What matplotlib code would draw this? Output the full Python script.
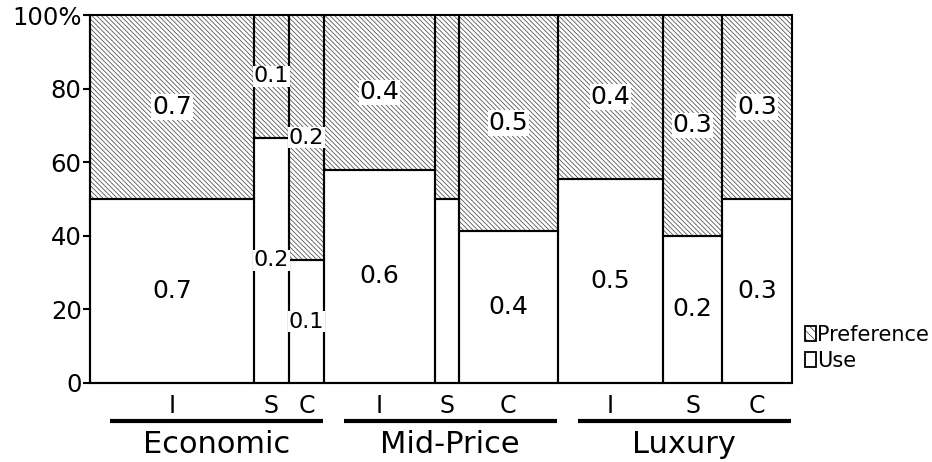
import numpy as np
import matplotlib
matplotlib.use("Agg")
import matplotlib.pyplot as plt
from matplotlib.patches import Patch
from matplotlib.legend_handler import HandlerTuple

SEGMENTS = ["Economic", "Mid-Price", "Luxury"]
TYPES = ["I", "S", "C"]
USE = [[0.7, 0.2, 0.1], [0.55, 0.1, 0.35], [0.5, 0.2, 0.3]]
PREF = [[0.7, 0.1, 0.2], [0.4, 0.1, 0.5], [0.4, 0.3, 0.3]]
YTICKS = [0, 20, 40, 60, 80, 100]
YTICK_LABELS = ["0", "20", "40", "60", "80", "100%"]

HATCH = "\\" * 7
HATCH_COL = "#4a4a4a"
plt.rcParams["hatch.linewidth"] = 0.55
plt.rcParams["font.family"] = ["DejaVu Sans"]


def fmt(v):
    return f"{round(v + 1e-9, 1)}"


def main():
    use = np.array(USE)
    pref = np.array(PREF)
    n_seg = len(SEGMENTS)
    widths = (use + pref) / 2 / n_seg
    lefts = np.cumsum(np.concatenate([[0], widths.ravel()[:-1]])).reshape(widths.shape)
    use_h = 100 * use / (use + pref)

    fig = plt.figure(figsize=(9.32, 4.62), dpi=100)
    ax = fig.add_axes([0.0966, 0.171, 0.7532, 0.7965])

    L, W, H = lefts.ravel(), widths.ravel(), use_h.ravel()
    ax.bar(L, H, width=W, align="edge", color="white", linewidth=0)
    ax.bar(L, 100 - H, bottom=H, width=W, align="edge", color="white",
           edgecolor=HATCH_COL, linewidth=0, hatch=HATCH)
    b1 = ax.bar(L, H, width=W, align="edge", fill=False, edgecolor="black", linewidth=1.5)
    b2 = ax.bar(L, 100 - H, bottom=H, width=W, align="edge", fill=False,
                edgecolor="black", linewidth=1.5)
    for p in list(b1) + list(b2):
        p.set_clip_on(False)

    # value labels (skip columns that are too narrow)
    for i in range(n_seg):
        for j in range(len(TYPES)):
            w = widths[i, j]
            if w < 0.04:
                continue
            fs = 18 if w > 0.07 else 16
            cx = lefts[i, j] + w / 2
            h = use_h[i, j]
            for yc, v in [(h / 2, use[i, j]), ((h + 100) / 2, pref[i, j])]:
                ax.text(cx, yc, fmt(v), ha="center", va="center", fontsize=fs,
                        bbox=dict(facecolor="white", edgecolor="none", pad=0.5))

    ax.set_xlim(0, 1)
    ax.set_ylim(0, 100)
    ax.set_yticks(YTICKS, YTICK_LABELS)
    ax.set_xticks((lefts + widths / 2).ravel(), TYPES * n_seg)
    ax.tick_params(axis="x", length=0, pad=8, labelsize=17)
    ax.tick_params(axis="y", length=5, width=1.5, pad=1, labelsize=17.5)
    for s in ["top", "right"]:
        ax.spines[s].set_visible(False)
    for s in ["left", "bottom"]:
        ax.spines[s].set_linewidth(1.5)

    # segment underlines and names
    for i, name in enumerate(SEGMENTS):
        x0 = i / n_seg + 0.028
        x1 = (i + 1) / n_seg - 0.002
        ax.plot([x0, x1], [-10.3, -10.3], color="black", lw=3, clip_on=False,
                solid_capstyle="butt")
        ax.text((x0 + x1) / 2, -19, name, ha="center", va="baseline",
                fontsize=22, clip_on=False)

    h_pref = (Patch(facecolor="white", edgecolor=HATCH_COL, hatch="\\" * 4, linewidth=0),
              Patch(fill=False, edgecolor="black", linewidth=1.3))
    h_use = Patch(facecolor="white", edgecolor="black", linewidth=1.3)
    fig.legend([h_pref, h_use], ["Preference", "Use"], loc="center left",
               bbox_to_anchor=(0.864, 0.247), frameon=False, fontsize=15,
               handlelength=0.5, handleheight=0.75, handletextpad=0.08,
               labelspacing=0.3, borderpad=0, borderaxespad=0,
               handler_map={tuple: HandlerTuple(ndivide=1)})

    fig.savefig("out.png", dpi=100)
    plt.close(fig)


if __name__ == "__main__":
    main()
